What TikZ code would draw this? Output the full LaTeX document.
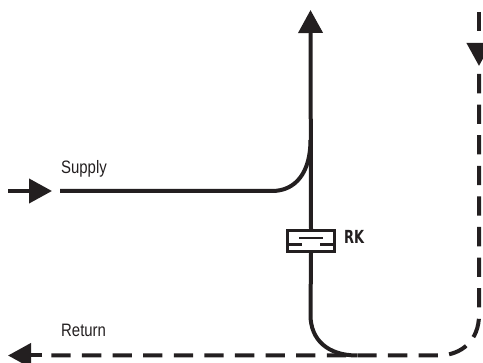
\documentclass[tikz,border=0pt]{standalone}
\usepackage{fontspec}
\setmainfont{Liberation Sans}
\newfontfamily\rkfont{DejaVu Sans}
\usetikzlibrary{arrows.meta}
\definecolor{ink}{HTML}{231F20}
\tikzset{
  x=1pt,y=-1pt,
  pipe/.style={draw=ink,line width=4pt,line cap=butt},
  retpipe/.style={pipe,dash pattern=on 19.3pt off 11.3pt},
  head/.style={-{Triangle[length=23pt,width=24pt,fill=ink]},draw=ink,line width=4pt},
  lab/.style={text=ink,inner sep=0pt,font=\fontsize{18}{20}\selectfont,xscale=.83},
  labbold/.style={text=ink,inner sep=0pt,font=\rkfont\bfseries\fontsize{18}{20}\selectfont,xscale=.72},
  valve/.style={draw=ink,line width=3.4pt,minimum width=47pt,minimum height=21pt,inner sep=0pt,fill=white},
  vline/.style={draw=ink,line width=2.2pt},
}
\begin{document}
\begin{tikzpicture}
\useasboundingbox (0,0) rectangle (483,363);
% anchors
\coordinate (upTip) at (310.5,10);
\coordinate (upMerge) at (310.5,140);
\coordinate (supIn) at (8,191);
\coordinate (supTip) at (52,191);
\coordinate (supStart) at (60,191);
\coordinate (supBend) at (272,191);
\coordinate (botBend) at (310.5,315);
\coordinate (botEnd) at (357,355.5);
\coordinate (retTop) at (479,12);
\coordinate (retTopEnd) at (479,31);
\coordinate (retArrowStart) at (479,43);
\coordinate (retArrowTip) at (479,66);
\coordinate (retDown) at (479,74);
\coordinate (retCorner) at (479,315);
\coordinate (retBottom) at (438,355.5);
\coordinate (retTail) at (42,355.5);
\coordinate (retTip) at (8,355.5);
\node[valve] (rk) at (311,241) {};
\draw[vline] (299,238) -- (323,238);
\draw[vline] (288,244.5) -- (302,244.5);
\draw[vline] (320,244.5) -- (334,244.5);
% solid
\draw[head] (rk.north) -- (upTip);
\draw[pipe] (supStart) -- (supBend) .. controls (296,191) and (310.5,172) .. (upMerge);
\draw[pipe] (rk.south) -- (botBend) .. controls (310.5,340) and (328,355.5) .. (botEnd);
\draw[head] (supIn) -- (supTip);
% dashed
\draw[pipe] (retTop) -- (retTopEnd);
\draw[head] (retArrowStart) -- (retArrowTip);
\draw[retpipe] (retDown) -- (retCorner) .. controls (479,340) and (462,355.5) .. (retBottom) -- (retTail);
\draw[head] (retTail) -- (retTip);
% labels
\node[lab,anchor=base west] (sup) at (61,174) {Supply};
\node[lab,anchor=base west] (ret) at (61,337) {Return};
\node[labbold,anchor=base west] (rklab) at (344,244) {RK};
\end{tikzpicture}
\end{document}
